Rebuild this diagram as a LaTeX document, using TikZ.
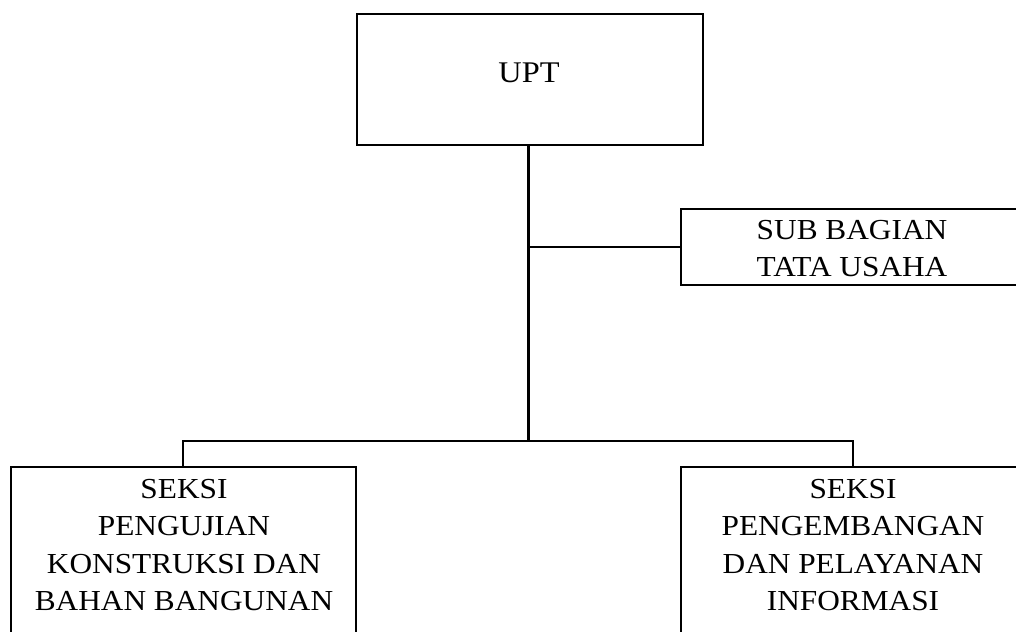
\documentclass[tikz,border=0pt]{standalone}
\usepackage{fontspec}
\setmainfont{Liberation Serif}[FakeStretch=1.08]
\begin{document}
\begin{tikzpicture}[x=1pt,y=-1pt,
  box/.style={draw=black,line width=1.5pt,rectangle,inner sep=0pt},
  txt/.style={align=center,font=\fontsize{29}{37.5}\selectfont,inner sep=0pt},
  conn/.style={draw=black,line width=2pt},
  mainconn/.style={draw=black,line width=3pt}]
\useasboundingbox (0,0) rectangle (1016,631);
\clip (0,0) rectangle (1016,631);
% boxes
\node[box,anchor=north west,minimum width=346,minimum height=131] (upt) at (356,13.5) {};
\node[txt,font=\fontsize{30}{37.5}\selectfont] (upttxt) at (529,73) {UPT};
\node[box,anchor=north west,minimum width=360,minimum height=76] (sub) at (680,208) {};
\node[txt,anchor=north] (subtxt) at (852,220) {SUB BAGIAN\\TATA USAHA};
\node[box,anchor=north west,minimum width=345,minimum height=200] (s1) at (10,466) {};
\node[txt,anchor=north] (s1txt) at (184,479) {SEKSI\\PENGUJIAN\\KONSTRUKSI DAN\\BAHAN BANGUNAN};
\node[box,anchor=north west,minimum width=360,minimum height=200] (s2) at (680,466) {};
\node[txt,anchor=north] (s2txt) at (853,479) {SEKSI\\PENGEMBANGAN\\DAN PELAYANAN\\INFORMASI};
% connectors
\coordinate (j1) at (528,246.5);
\coordinate (j2) at (528,441);
\coordinate (l1) at (183,441);
\coordinate (r1) at (853,441);
\draw[mainconn] (upt.south -| j1) -- (j2);
\draw[conn] (j1) -- (j1 -| sub.west);
\draw[conn,line cap=rect] (l1) -- (r1);
\draw[conn] (l1) -- (l1 |- s1.north);
\draw[conn] (r1) -- (r1 |- s2.north);
\end{tikzpicture}
\end{document}
